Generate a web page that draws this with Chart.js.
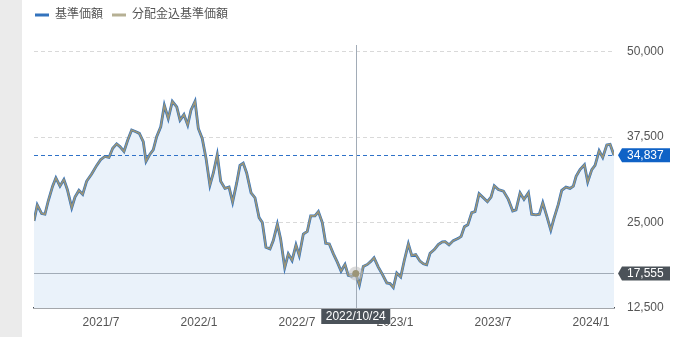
<!DOCTYPE html>
<html>
<head>
<meta charset="utf-8">
<script src="https://cdn.jsdelivr.net/npm/chart.js@4.4.1/dist/chart.umd.min.js"></script>
<style>
  html, body { margin: 0; padding: 0; background: #fff; }
  body { width: 688px; height: 337px; overflow: hidden; position: relative; }
  .side { position: absolute; left: 0; top: 0; width: 22px; height: 337px; background: #ebebeb; }
  .wrap { position: absolute; left: 22px; top: 0; width: 666px; height: 337px; }
</style>
</head>
<body>
<div class="side"></div>
<div class="wrap"><canvas id="chart" width="666" height="337"></canvas></div>
<script>
// -----------------------------------------------------------------------------
// data (x = months counted from 2021/1)
// -----------------------------------------------------------------------------
const monthPos = [
  1.90, 2.10, 2.37, 2.57, 2.77, 3.04, 3.24, 3.49, 3.73, 3.94, 4.21, 4.41, 4.65, 4.88, 5.12, 5.43,
  5.74, 5.98, 6.24, 6.49, 6.72, 6.96, 7.16, 7.41, 7.64, 7.88, 8.14, 8.35, 8.59, 8.76, 9.00,
  9.20, 9.41, 9.66, 9.88, 10.12, 10.37, 10.64, 10.84, 11.08, 11.31, 11.51, 11.76, 11.96, 12.20, 12.43,
  12.67, 12.88, 13.12, 13.33, 13.59, 13.84, 14.06, 14.31, 14.51, 14.71, 14.92, 15.19, 15.43, 15.68, 15.88,
  16.10, 16.35, 16.55, 16.80, 17.00, 17.25, 17.47, 17.70, 17.94, 18.14, 18.39, 18.63, 18.84, 19.10, 19.31,
  19.55, 19.76, 19.98, 20.23, 20.47, 20.70, 20.94, 21.14, 21.35, 21.60, 21.82, 22.06, 22.31, 22.52, 22.72,
  22.98, 23.23, 23.50, 23.70, 23.90, 24.11, 24.35, 24.57, 24.82, 25.03, 25.27, 25.53, 25.74, 25.94, 26.15,
  26.41, 26.65, 26.90, 27.07, 27.31, 27.57, 27.88, 28.05, 28.25, 28.46, 28.70, 28.90, 29.15, 29.41, 29.66, 29.88,
  30.08, 30.33, 30.64, 30.94, 31.21, 31.41, 31.66, 31.90, 32.17, 32.37, 32.64, 32.84, 33.05, 33.29, 33.54, 33.74,
  34.00, 34.21, 34.47, 34.72, 34.92, 35.09, 35.33, 35.60, 35.80, 36.05, 36.25, 36.50, 36.72, 36.97, 37.17, 37.41
];

const navValues = [
  25240, 27560, 26300, 26210, 28140, 30310, 31510, 30310, 31280, 29830, 27170, 28720, 29690, 29110, 31030, 32090,
  33350, 34180, 34650, 34510, 35860, 36490, 36100, 35380, 37070, 38520, 38270, 38030, 36830, 33930, 34990,
  35620, 37550, 39000, 42140, 40200, 42720, 41890, 39970, 40780, 39250, 41420, 42720, 38750, 37300, 34410,
  30460, 32240, 34900, 31030, 29980, 30170, 27990, 30790, 33350, 33680, 32240, 29340, 28620, 25720, 25000,
  21380, 21140, 22350, 24760, 22590, 18390, 20420, 19450, 21720, 20170, 23320, 23690, 25970, 25970, 26590,
  25000, 21960, 21870, 20420, 19200, 17900, 18870, 17280, 17130, 17555, 15830, 18580, 18870, 19310, 19840,
  18480, 17420, 16160, 16080, 15500, 17610, 17030, 19450, 21870, 20170, 20320, 19350, 18970, 18830, 20510,
  21040, 21770, 22160, 22200, 21720, 22350, 22680, 22970, 24370, 24660, 26440, 26590, 29200, 28620, 28040, 28720,
  30380, 29830, 29590, 28380, 26690, 26840, 29340, 28380, 29340, 26210, 26110, 26210, 27890, 25970, 23900, 25630,
  27660, 29690, 30170, 29980, 30310, 31760, 32730, 33450, 30930, 32730, 33350, 35480, 34510, 36350, 36440, 34837
];

// no distribution paid: the reinvested series lies on the NAV series
const reinvestedValues = navValues;

const seriesNames = ['基準価額', '分配金込基準価額'];
const tickMonths  = [6, 12, 18, 24, 30, 36];
const tickLabels  = ['2021/7', '2022/1', '2022/7', '2023/1', '2023/7', '2024/1'];
const yTicks      = [12500, 25000, 37500, 50000];

// hovered point and latest value
const selIndex  = 85;
const selLabel  = '2022/10/24';
const lastValue = navValues[navValues.length - 1];

const FONT = '"Liberation Sans", Arial, "Noto Sans CJK JP", sans-serif';
const NAV_COLOR = '#3373bd';
const REINV_COLOR = '#9c9577';

// -----------------------------------------------------------------------------
// helpers
// -----------------------------------------------------------------------------
var fmt = function(v) {
   return Number(v).toLocaleString('en-US');
};

// tag pointing left, on the right axis
var drawRightTag = function(ctx, x, y, text, color) {
   const h = 14, w = 48, tip = 4;
   ctx.fillStyle = color;
   ctx.beginPath();
   ctx.moveTo(x, y);
   ctx.lineTo(x + tip, y - h / 2);
   ctx.lineTo(x + tip + w, y - h / 2);
   ctx.lineTo(x + tip + w, y + h / 2);
   ctx.lineTo(x + tip, y + h / 2);
   ctx.closePath();
   ctx.fill();
   ctx.fillStyle = '#fff';
   ctx.font = '12px ' + FONT;
   ctx.textAlign = 'left';
   ctx.textBaseline = 'middle';
   ctx.fillText(text, x + tip + 5, y + 0.5);
};

// lines, tags and point marker
// (the area fill is drawn first, see filler.drawTime, so these lines stay visible on it)
const markerPlugin = {
   id: 'markers',
   beforeDatasetsDraw(chart) {
      const {ctx, chartArea: a, scales: {x, y}} = chart;
      const px = Math.round(x.getPixelForValue(monthPos[selIndex])) + 0.5;
      const pySel = Math.round(y.getPixelForValue(navValues[selIndex])) + 0.5;
      const pyLast = Math.round(y.getPixelForValue(lastValue)) + 0.5;
      ctx.save();
      ctx.lineWidth = 1;
      // latest value
      ctx.strokeStyle = '#2f72c8';
      ctx.setLineDash([4, 3]);
      ctx.beginPath();
      ctx.moveTo(a.left, pyLast);
      ctx.lineTo(a.right, pyLast);
      ctx.stroke();
      // crosshair
      ctx.setLineDash([]);
      ctx.strokeStyle = '#a2acb7';
      ctx.beginPath();
      ctx.moveTo(a.left, pySel);
      ctx.lineTo(a.right, pySel);
      ctx.moveTo(px, a.top + 14);
      ctx.lineTo(px, a.bottom);
      ctx.stroke();
      ctx.restore();
   },
   afterDraw(chart) {
      const {ctx, chartArea: a, scales: {x, y}} = chart;
      const px = x.getPixelForValue(monthPos[selIndex]);
      const pySel = y.getPixelForValue(navValues[selIndex]);
      const pyLast = y.getPixelForValue(lastValue);
      ctx.save();
      // point marker
      ctx.fillStyle = 'rgba(190,190,190,0.55)';
      ctx.beginPath();
      ctx.arc(px, pySel, 7, 0, Math.PI * 2);
      ctx.fill();
      ctx.fillStyle = REINV_COLOR;
      ctx.beginPath();
      ctx.arc(px, pySel, 3.5, 0, Math.PI * 2);
      ctx.fill();
      // tags on the right
      drawRightTag(ctx, a.right + 4, pyLast, fmt(lastValue), '#0f62c6');
      drawRightTag(ctx, a.right + 4, pySel, fmt(navValues[selIndex]), '#4b5259');
      // date tag on the bottom
      const w = 69, h = 15, top = a.bottom + 1;
      ctx.fillStyle = '#4b5259';
      ctx.fillRect(px - w / 2, top, w, h);
      ctx.fillStyle = '#fff';
      ctx.font = '12px ' + FONT;
      ctx.textAlign = 'center';
      ctx.textBaseline = 'middle';
      ctx.fillText(selLabel, px, top + h / 2 + 0.5);
      ctx.restore();
   }
};

// -----------------------------------------------------------------------------
// chart
// -----------------------------------------------------------------------------
const toPoints = function(values) {
   return values.map((v, i) => ({x: monthPos[i], y: v}));
};

new Chart(document.getElementById('chart'), {
   type: 'line',
   data: {
      datasets: [
         {
            label: seriesNames[0],
            data: toPoints(navValues),
            xAxisID: 'x',
            yAxisID: 'y',
            borderColor: NAV_COLOR,
            borderWidth: 2.8,
            backgroundColor: '#eaf2fa',
            fill: 'start',
            pointRadius: 0,
            tension: 0,
            order: 2
         },
         {
            label: seriesNames[1],
            data: toPoints(reinvestedValues),
            xAxisID: 'x',
            yAxisID: 'y',
            borderColor: REINV_COLOR,
            borderWidth: 1.6,
            fill: false,
            pointRadius: 0,
            tension: 0,
            order: 1
         }
      ]
   },
   options: {
      responsive: false,
      animation: false,
      events: [],
      layout: {padding: {left: 4, right: 0, top: 0, bottom: 0}},
      plugins: {
         tooltip: {enabled: false},
         filler: {drawTime: 'beforeDatasetsDraw'},
         legend: {
            display: true,
            position: 'top',
            align: 'start',
            labels: {
               boxWidth: 14,
               boxHeight: 3,
               padding: 9,
               color: '#555',
               font: {family: FONT, size: 12},
               generateLabels: function() {
                  return [NAV_COLOR, '#b6b094'].map((c, i) => ({
                     text: seriesNames[i],
                     fillStyle: c,
                     strokeStyle: c,
                     lineWidth: 0,
                     datasetIndex: i,
                     fontColor: '#555'
                  }));
               }
            }
         }
      },
      scales: {
         pad: {
            type: 'linear',
            position: 'left',
            display: true,
            ticks: {display: false},
            grid: {display: false},
            border: {display: false},
            afterFit: function(scale) { scale.width = 8; }
         },
         x: {
            type: 'linear',
            min: monthPos[0],
            max: monthPos[monthPos.length - 1],
            afterBuildTicks: function(scale) {
               scale.ticks = tickMonths.map(v => ({value: v}));
            },
            afterFit: function(scale) { scale.height = 29; },
            grid: {display: false, drawTicks: false},
            border: {display: true, color: '#4a5058', width: 1.5},
            ticks: {
               autoSkip: false,
               maxRotation: 0,
               padding: 7,
               color: '#555',
               font: {family: FONT, size: 12},
               callback: function(v) {
                  const i = tickMonths.indexOf(v);
                  return i < 0 ? '' : tickLabels[i];
               }
            }
         },
         y: {
            type: 'linear',
            position: 'right',
            min: yTicks[0],
            max: 53000,
            afterBuildTicks: function(scale) {
               scale.ticks = yTicks.map(v => ({value: v}));
            },
            afterFit: function(scale) { scale.width = 74; },
            grid: {
               drawTicks: false,
               color: (c) => (c.tick && c.tick.value === yTicks[0]) ? 'rgba(0,0,0,0)' : '#d9d9d9'
            },
            border: {display: false, dash: [4, 3]},
            ticks: {
               padding: 13,
               color: '#555',
               font: {family: FONT, size: 12},
               callback: fmt
            }
         }
      }
   },
   plugins: [markerPlugin]
});
</script>
</body>
</html>
